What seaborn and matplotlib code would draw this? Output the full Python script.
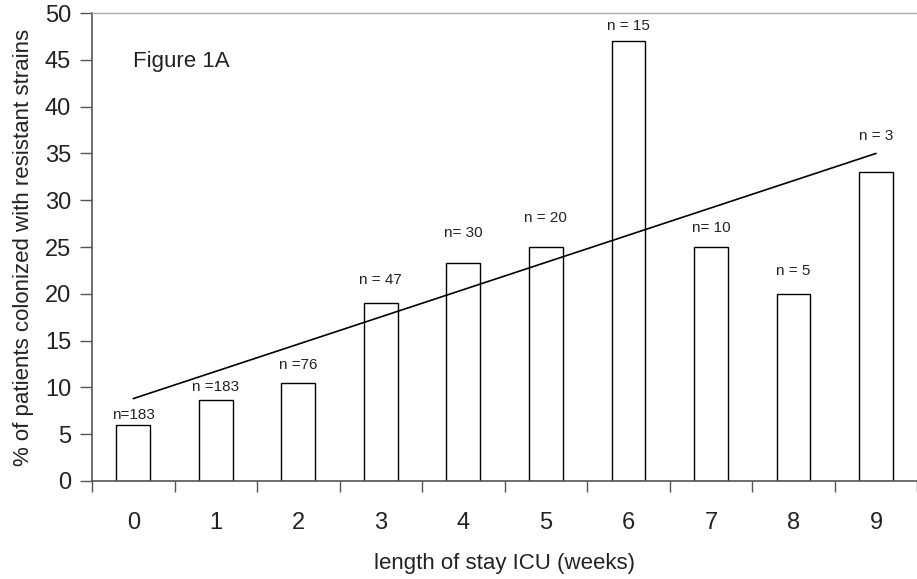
import numpy as np
import pandas as pd
import matplotlib
matplotlib.use("Agg")
import matplotlib.pyplot as plt
import seaborn as sns

# --- data ---
weeks = ["0", "1", "2", "3", "4", "5", "6", "7", "8", "9"]
pct_resistant = [6.0, 8.7, 10.5, 19.0, 23.3, 25.0, 47.0, 25.0, 20.0, 33.0]
n_labels = ["n=183", "n =183", "n =76", "n = 47", "n= 30", "n = 20",
            "n = 15", "n= 10", "n = 5", "n = 3"]
trend_weeks = [0, 9]
trend_pct = [8.8, 35.0]

# label offsets above each bar (data units)
label_gap = [1.05, 1.3, 1.9, 2.5, 3.2, 3.1, 1.6, 2.0, 2.4, 3.9]

df = pd.DataFrame({"week": weeks, "pct": pct_resistant})

sns.set_style("ticks")
plt.rcParams["font.family"] = ["Liberation Sans", "DejaVu Sans"]

fig = plt.figure(figsize=(9.17, 5.79), dpi=100)
ax = fig.add_axes([0.1003, 0.1693, 0.9, 0.8082])

sns.barplot(data=df, x="week", y="pct", color="white", edgecolor="black",
            linewidth=1.0, width=0.41, saturation=1, ax=ax)

ax.plot(trend_weeks, trend_pct, color="black", lw=1.2)

for i, (v, lab) in enumerate(zip(pct_resistant, n_labels)):
    ax.text(i, v + label_gap[i], lab, ha="center", va="center", fontsize=11,
            color="#222222")

ax.text(0.0, 44.8, "Figure 1A", ha="left", va="center", fontsize=16,
        color="#222222")

ax.set_xlim(-0.5, 9.5)
ax.set_ylim(0, 50)
ax.set_yticks(np.arange(0, 51, 5))

# x ticks: labels at centres, tick marks at boundaries
ax.set_xticks(range(len(weeks)))
ax.set_xticklabels(weeks)
ax.set_xticks(np.arange(-0.5, 9.6, 1.0), minor=True)
ax.tick_params(axis="x", which="major", length=0, pad=22, labelsize=17,
               labelcolor="#222222")
ax.tick_params(axis="x", which="minor", length=8, width=1, color="#555555",
               direction="out")
ax.tick_params(axis="y", length=9, width=1, color="#555555", labelsize=17,
               pad=6, labelcolor="#222222")

for side in ["left", "bottom"]:
    ax.spines[side].set_color("#555555")
    ax.spines[side].set_linewidth(1.2)
ax.spines["top"].set_visible(True)
ax.spines["top"].set_color("#aaaaaa")
ax.spines["top"].set_linewidth(1.0)
ax.spines["right"].set_visible(False)

ax.set_xlabel("length of stay ICU (weeks)", fontsize=16, labelpad=14,
              color="#222222")
ax.set_ylabel("% of patients colonized with resistant strains", fontsize=16,
              labelpad=8, color="#222222")

fig.savefig("out.png", dpi=100)
